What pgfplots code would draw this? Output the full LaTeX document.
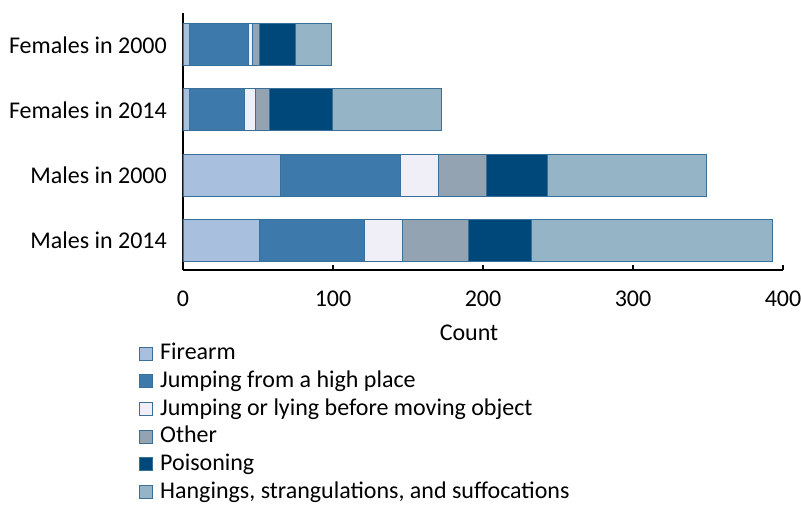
\documentclass[border=0pt]{standalone}
\usepackage{pgfplots}
\pgfplotsset{compat=1.18}
\usepackage{fontspec}
\setmainfont{Carlito}

\definecolor{cFire}{HTML}{A8BFDD}
\definecolor{cHigh}{HTML}{3D7AAB}
\definecolor{cMove}{HTML}{F0EEF6}
\definecolor{cOther}{HTML}{93A3B1}
\definecolor{cPois}{HTML}{00477A}
\definecolor{cHang}{HTML}{95B5C6}
\definecolor{cEdge}{HTML}{3A6F9A}

\begin{document}
\fontsize{24}{28}\selectfont
\begin{tikzpicture}
\useasboundingbox (-183pt,-234pt) rectangle (618pt,270pt);
\begin{axis}[
    at={(0,0)}, anchor=south west,
    scale only axis,
    width=600pt, height=257pt,
    xbar stacked,
    bar width=42pt,
    xmin=0, xmax=400,
    ymin=-0.46, ymax=3.49,
    xtick={0,100,200,300,400},
    ytick={0,1,2,3},
    yticklabels={Males in 2014,Males in 2000,Females in 2014,Females in 2000},
    axis lines*=left,
    axis line style={black, line width=1.3pt},
    xtick pos=bottom,
    tick align=inside,
    major tick length=5pt,
    xtick style={black, line width=1.3pt},
    ytick style={draw=none},
    /pgf/number format/assume math mode=true,
    tick label style={font=\fontsize{24}{28}\selectfont},
    xticklabel style={yshift=-13pt},
    yticklabel style={xshift=-8pt},
    xlabel={Count},
    xlabel style={font=\fontsize{24}{28}\selectfont, yshift=-2pt, xshift=-14pt},
    legend cell align=left,
    legend style={at={(-0.073,-0.285)}, anchor=north west, draw=none, fill=none,
        font=\fontsize{24}{28}\selectfont, row sep=7.4pt,
        inner sep=0pt, nodes={inner sep=0pt},
        /tikz/every odd column/.append style={column sep=7pt}},
    legend image code/.code={\draw[#1, line width=0.8pt] (0pt,-6.5pt) rectangle (13pt,6.5pt);},
    every axis plot/.append style={draw=cEdge, line width=0.9pt},
]
% order: Males 2014, Males 2000, Females 2014, Females 2000
\addplot[fill=cFire] coordinates {(51,0) (65,1) (4,2) (4,3)};
\addplot[fill=cHigh] coordinates {(70,0) (80,1) (37,2) (39.5,3)};
\addplot[fill=cMove] coordinates {(25,0) (25,1) (7,2) (2.7,3)};
\addplot[fill=cOther] coordinates {(44,0) (32,1) (9.5,2) (4.7,3)};
\addplot[fill=cPois] coordinates {(42,0) (41,1) (42,2) (24.4,3)};
\addplot[fill=cHang] coordinates {(161,0) (106,1) (72.5,2) (23.8,3)};
\legend{Firearm,Jumping from a high place,Jumping or lying before moving object,Other,Poisoning,{Hangings, strangulations, and suffocations}}
\end{axis}
\end{tikzpicture}
\end{document}
